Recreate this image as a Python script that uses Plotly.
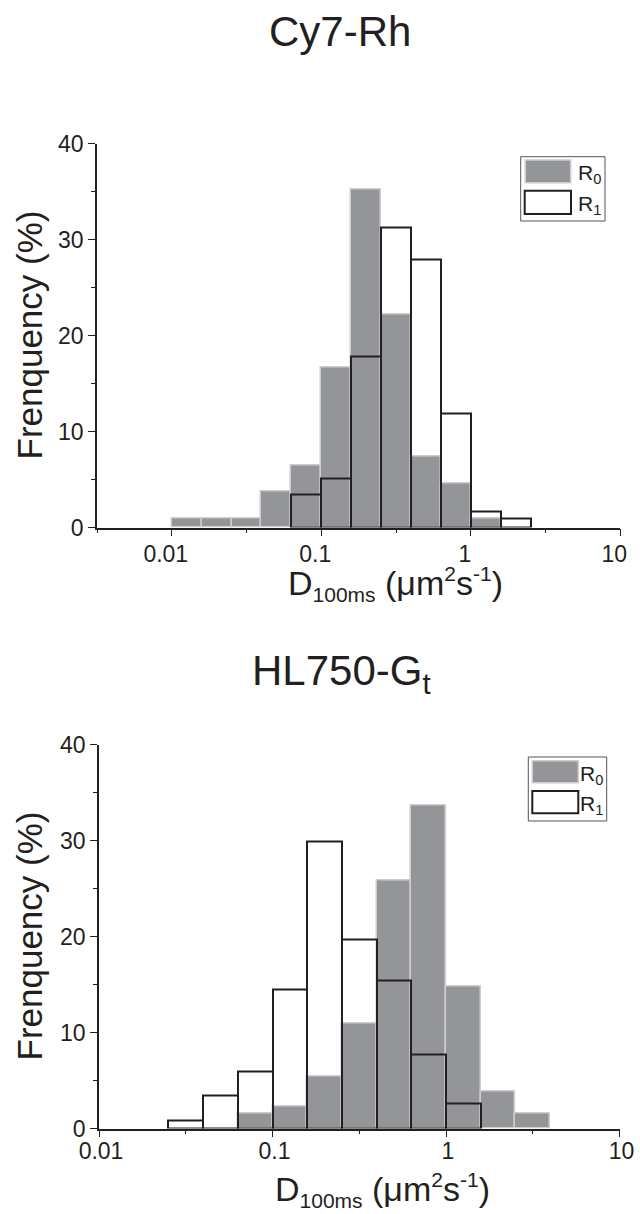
import plotly.graph_objects as go

W, H = 640, 1214

# ---------------- data ----------------
top_title = "Cy7-Rh"
bottom_title = "HL750-G<sub>t</sub>"
series_names = ["R<sub>0</sub>", "R<sub>1</sub>"]
y_title = "Frenquency (%)"
SUB = "<span style='font-size:21px'>{}</span>"
x_title = ("D<sub>" + SUB.format("100ms") + "</sub> (\u03bcm<sup>" + SUB.format("2")
           + "</sup>s<sup>" + SUB.format("-1") + "</sup>)")

bin_width_log = 0.2  # bin width in log10(D)
# left edges of bins, log10(D, um^2/s)
top_r0_left = [-2.0, -1.8, -1.6, -1.4, -1.2, -1.0, -0.8, -0.6, -0.4, -0.2, 0.0]
top_r0 = [0.93, 0.93, 0.93, 3.7, 6.5, 16.7, 35.2, 22.2, 7.4, 4.6, 0.93]
top_r1_left = [-1.2, -1.0, -0.8, -0.6, -0.4, -0.2, 0.0, 0.2]
top_r1 = [3.4, 5.1, 17.8, 31.3, 27.9, 11.9, 1.7, 0.9]

bot_r0_left = [-1.2, -1.0, -0.8, -0.6, -0.4, -0.2, 0.0, 0.2, 0.4]
bot_r0 = [1.56, 2.3, 5.45, 10.9, 25.8, 33.6, 14.8, 3.85, 1.56]
bot_r1_left = [-1.6, -1.4, -1.2, -1.0, -0.8, -0.6, -0.4, -0.2, 0.0]
bot_r1 = [0.86, 3.42, 5.98, 14.5, 29.9, 19.7, 15.4, 7.7, 2.56]

x_tick_vals = [-2, -1, 0, 1]
x_tick_text = ["0.01", "0.1", "1", "10"]
y_tick_vals = [0, 10, 20, 30, 40]

# ---------------- style ----------------
FONT = "Liberation Sans, Arial, Helvetica, sans-serif"
INK = "#231f20"
GRAY = "#939598"
GRAY_EDGE = "#cdcdcd"


def px(x):
    return x / W


def py(y):
    return 1 - y / H


def centers(lefts):
    return [l + bin_width_log / 2 for l in lefts]


fig = go.Figure()

panels = [
    dict(xa="x", ya="y", r0l=top_r0_left, r0=top_r0, r1l=top_r1_left, r1=top_r1),
    dict(xa="x2", ya="y2", r0l=bot_r0_left, r0=bot_r0, r1l=bot_r1_left, r1=bot_r1),
]
for p in panels:
    fig.add_trace(go.Bar(
        x=centers(p["r0l"]), y=p["r0"], width=bin_width_log,
        marker=dict(color=GRAY, line=dict(color=GRAY_EDGE, width=1.5)),
        xaxis=p["xa"], yaxis=p["ya"], showlegend=False, hoverinfo="skip"))
    fig.add_trace(go.Bar(
        x=centers(p["r1l"]), y=p["r1"], width=bin_width_log,
        marker=dict(color="rgba(0,0,0,0)", line=dict(color=INK, width=2)),
        xaxis=p["xa"], yaxis=p["ya"], showlegend=False, hoverinfo="skip"))

# plot areas (pixels)
top_box = dict(x0=97, x1=620.3, y0=143.5, y1=527.5)
bot_box = dict(x0=99, x1=619.5, y0=744.5, y1=1128.5)


def xaxis(box, rng, shift, standoff):
    return dict(
        domain=[px(box["x0"]), px(box["x1"])], range=rng, type="linear",
        tickmode="array", tickvals=x_tick_vals, ticktext=x_tick_text,
        ticks="outside", ticklen=7, tickwidth=1.3, tickcolor=INK,
        ticklabelshift=shift, ticklabelstandoff=standoff,
        minor=dict(dtick=0.5, tick0=0, ticks="outside", ticklen=4,
                   tickwidth=1.2, tickcolor=INK, showgrid=False),
        showline=True, linecolor=INK, linewidth=1.5,
        showgrid=False, zeroline=False, automargin=False,
        tickfont=dict(family=FONT, size=23, color=INK), fixedrange=True)


def yaxis(box, anchor):
    return dict(
        domain=[py(box["y1"]), py(box["y0"])], range=[0, 40], anchor=anchor,
        tickmode="array", tickvals=y_tick_vals,
        ticks="outside", ticklen=7, tickwidth=1.3, tickcolor=INK,
        minor=dict(dtick=5, tick0=0, ticks="outside", ticklen=4,
                   tickwidth=1.2, tickcolor=INK, showgrid=False),
        showline=True, linecolor=INK, linewidth=1.5,
        showgrid=False, zeroline=False, automargin=False,
        tickfont=dict(family=FONT, size=23, color=INK), fixedrange=True)


xa1 = xaxis(top_box, [-2.5, 1], -6, -2); xa1["anchor"] = "y"
xa2 = xaxis(bot_box, [-2, 1], 2, -6); xa2["anchor"] = "y2"

shapes = []
annotations = []


def legend(box, r0sw, r1sw, tx):
    shapes.append(dict(type="rect", xref="paper", yref="paper",
                       x0=px(box[0]), x1=px(box[2]), y0=py(box[3]), y1=py(box[1]),
                       line=dict(color="#555555", width=1), fillcolor="white"))
    shapes.append(dict(type="rect", xref="paper", yref="paper",
                       x0=px(r0sw[0]), x1=px(r0sw[2]), y0=py(r0sw[3]), y1=py(r0sw[1]),
                       line=dict(color=GRAY_EDGE, width=1.5), fillcolor=GRAY))
    shapes.append(dict(type="rect", xref="paper", yref="paper",
                       x0=px(r1sw[0]), x1=px(r1sw[2]), y0=py(r1sw[3]), y1=py(r1sw[1]),
                       line=dict(color=INK, width=2), fillcolor="white"))
    for name, sw in zip(series_names, [r0sw, r1sw]):
        annotations.append(dict(
            text=name, xref="paper", yref="paper", x=px(tx), y=py((sw[1] + sw[3]) / 2 + 3),
            xanchor="left", yanchor="middle", showarrow=False,
            font=dict(family=FONT, size=21, color=INK)))


legend((520.7, 156.7, 605, 221), (525.3, 160, 570.7, 182.7), (524.7, 190.7, 571, 214), 576)
legend((528.3, 757, 606.7, 821), (532.3, 760.7, 578.3, 782.7), (532.3, 791, 578.3, 813.3), 577.5)


def text(t, x, y, size, xanchor="center", yanchor="middle", angle=0):
    annotations.append(dict(text=t, xref="paper", yref="paper", x=px(x), y=py(y),
                            xanchor=xanchor, yanchor=yanchor, textangle=angle,
                            showarrow=False,
                            font=dict(family=FONT, size=size, color=INK)))


text(top_title, 340.3, 32, 42)
text(bottom_title, 341.5, 674, 42)
text(y_title, 29, 335.5, 35, angle=-90)
text(y_title, 29, 936.5, 35, angle=-90)
text(x_title, 286, 584, 34, xanchor="left")
text(x_title, 273, 1190, 34, xanchor="left")

fig.update_layout(
    width=W, height=H, margin=dict(l=0, r=0, t=0, b=0),
    template="none", paper_bgcolor="white", plot_bgcolor="white",
    barmode="overlay", bargap=0, showlegend=False,
    xaxis=xa1, yaxis=yaxis(top_box, "x"),
    xaxis2=xa2, yaxis2=yaxis(bot_box, "x2"),
    shapes=shapes, annotations=annotations,
    font=dict(family=FONT, color=INK),
)

fig.write_html("out.html", config={"displayModeBar": False},
               post_script="document.body.style.margin='0';document.body.style.padding='0';")
